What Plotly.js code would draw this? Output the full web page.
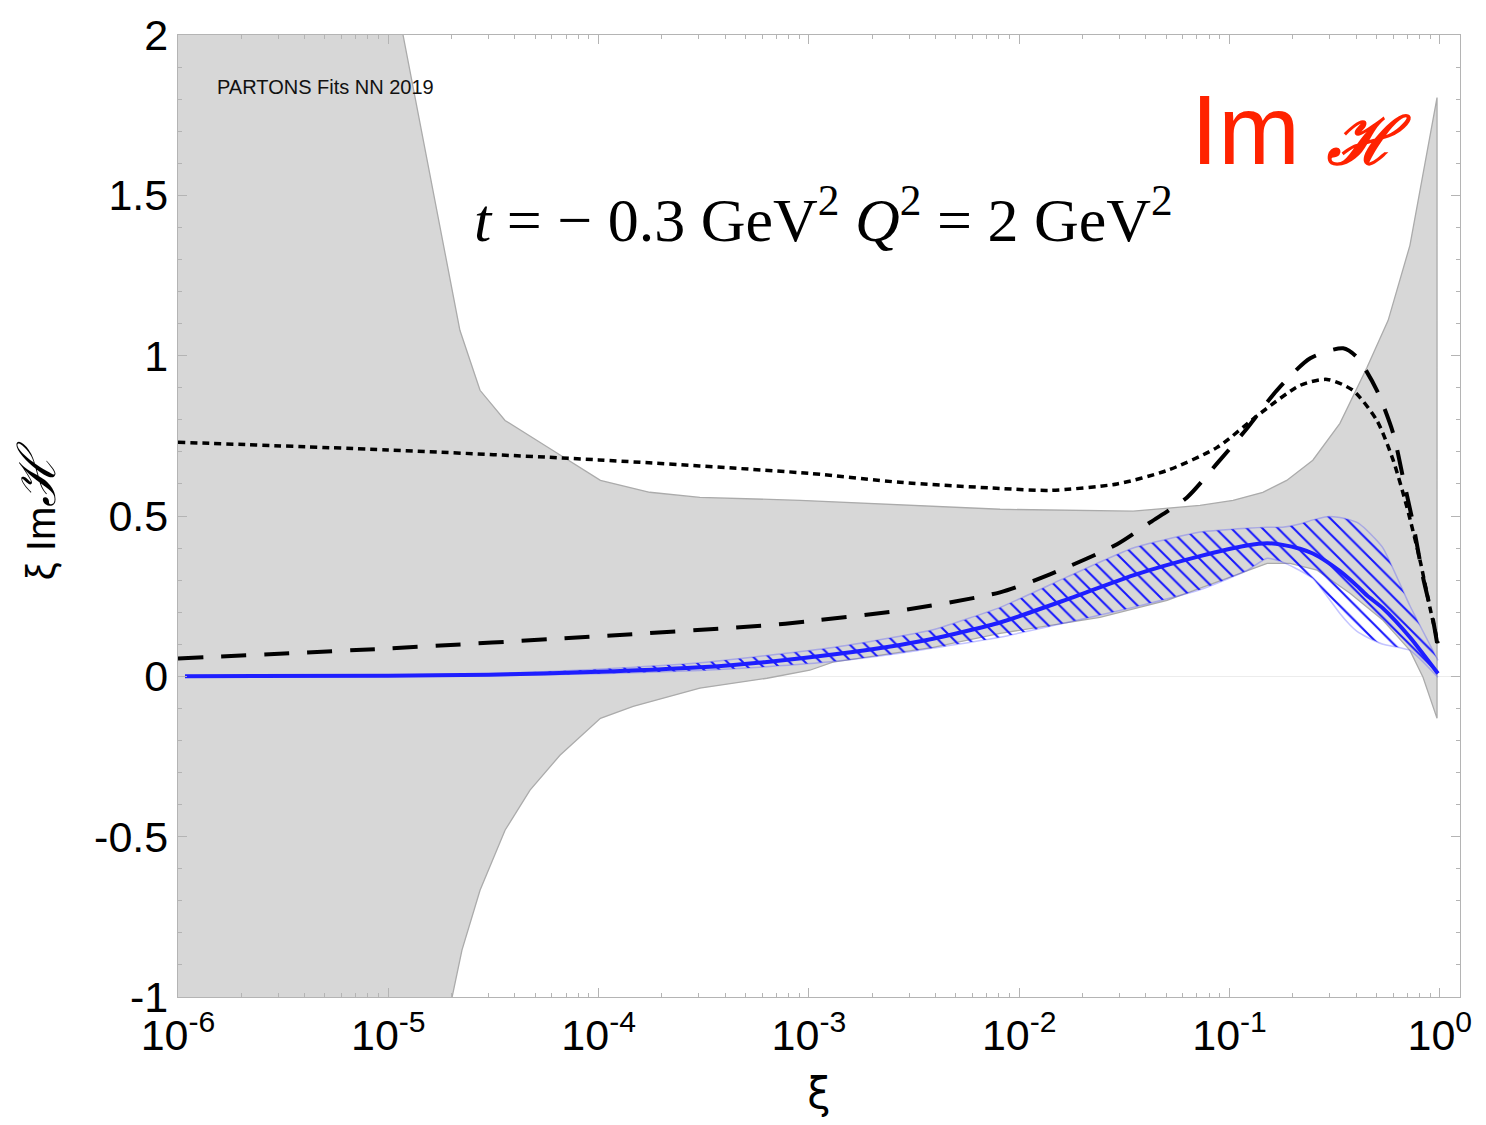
<!DOCTYPE html>
<html>
<head>
<meta charset="utf-8">
<script src="https://cdn.plot.ly/plotly-3.0.1.min.js"></script>
<style>html,body{margin:0;padding:0;background:#fff;}#plot{width:1486px;height:1125px;}</style>
</head>
<body>
<div id="plot"></div>
<script>
// Grey band (upper / lower bounds)
const greyUpperX = [1e-6, 1e-5, 1.175e-5, 2.19e-5, 2.73e-5, 3.59e-5, 5.56e-5, 1.02e-4, 1.75e-4, 3.03e-4, 9.08e-4, 8.11e-3, 0.0348, 0.0724, 0.104, 0.144, 0.187, 0.249, 0.335, 0.451, 0.568, 0.721, 0.97];
const greyUpperY = [5.0, 2.24, 2.0, 1.079, 0.892, 0.798, 0.720, 0.611, 0.574, 0.558, 0.549, 0.521, 0.515, 0.533, 0.549, 0.574, 0.611, 0.674, 0.789, 0.964, 1.110, 1.344, 1.805];
const greyLowerX = [1e-6, 1e-5, 2.01e-5, 2.24e-5, 2.73e-5, 3.59e-5, 4.72e-5, 6.55e-5, 1.02e-4, 1.46e-4, 3.03e-4, 6.32e-4, 1.01e-3, 1.30e-3, 3.89e-3, 8.11e-3, 0.0242, 0.0505, 0.151, 0.194, 0.261, 0.374, 0.537, 0.721, 0.832, 0.97];
const greyLowerY = [-6, -2.0, -1.001, -0.854, -0.667, -0.480, -0.355, -0.246, -0.131, -0.094, -0.037, -0.006, 0.019, 0.044, 0.090, 0.134, 0.184, 0.237, 0.352, 0.352, 0.331, 0.259, 0.175, 0.081, -0.003, -0.131];

// Blue central curve and its hatched band
const blueX = [1.08e-6, 1e-5, 3e-5, 1e-4, 3.03e-4, 6.32e-4, 1.3e-3, 2.71e-3, 3.89e-3, 8.11e-3, 0.0169, 0.0348, 0.0724, 0.121, 0.151, 0.179, 0.216, 0.249, 0.291, 0.335, 0.374, 0.404, 0.451, 0.537, 0.721, 0.98];
const blueMid = [0.000, 0.002, 0.005, 0.014, 0.028, 0.045, 0.068, 0.098, 0.117, 0.168, 0.240, 0.315, 0.375, 0.408, 0.415, 0.410, 0.398, 0.383, 0.357, 0.328, 0.302, 0.282, 0.252, 0.212, 0.122, 0.009];
const blueUpper = [0.001, 0.004, 0.008, 0.022, 0.042, 0.065, 0.090, 0.125, 0.145, 0.215, 0.310, 0.400, 0.450, 0.462, 0.465, 0.465, 0.475, 0.488, 0.498, 0.495, 0.488, 0.480, 0.455, 0.400, 0.220, 0.050];
const blueLower = [-0.001, 0.000, 0.002, 0.008, 0.018, 0.030, 0.046, 0.072, 0.088, 0.122, 0.168, 0.215, 0.270, 0.330, 0.368, 0.356, 0.330, 0.305, 0.250, 0.196, 0.160, 0.140, 0.122, 0.100, 0.081, -0.003];

// Dashed curve
const dashX = [1e-6, 1e-5, 1e-4, 6.32e-4, 1e-3, 2.71e-3, 8.11e-3, 0.0140, 0.0292, 0.0419, 0.0628, 0.0873, 0.121, 0.168, 0.242, 0.347, 0.404, 0.502, 0.600, 0.668, 0.746, 0.832, 0.929, 0.98];
const dashY = [0.056, 0.087, 0.125, 0.159, 0.172, 0.205, 0.262, 0.318, 0.412, 0.480, 0.558, 0.664, 0.773, 0.892, 0.992, 1.023, 0.995, 0.892, 0.758, 0.621, 0.477, 0.309, 0.175, 0.087];

// Dotted curve
const dotX = [1e-6, 1e-5, 1e-4, 1e-3, 2.71e-3, 8.11e-3, 0.0140, 0.0292, 0.0505, 0.0873, 0.140, 0.216, 0.291, 0.386, 0.502, 0.600, 0.698, 0.805, 0.897, 0.98];
const dotY = [0.730, 0.706, 0.675, 0.633, 0.605, 0.586, 0.580, 0.600, 0.642, 0.714, 0.820, 0.907, 0.926, 0.892, 0.798, 0.674, 0.527, 0.362, 0.215, 0.103];

// Tick labels
const xTickVals = [1e-6, 1e-5, 1e-4, 1e-3, 1e-2, 1e-1, 1];
const xTickText = ['10<sup>-6</sup>', '10<sup>-5</sup>', '10<sup>-4</sup>', '10<sup>-3</sup>', '10<sup>-2</sup>', '10<sup>-1</sup>', '10<sup>0</sup>'];
const yTickVals = [-1, -0.5, 0, 0.5, 1, 1.5, 2];
const yTickText = ['-1', '-0.5', '0', '0.5', '1', '1.5', '2'];

const greyPolyX = greyUpperX.concat(greyLowerX.slice().reverse());
const greyPolyY = greyUpperY.concat(greyLowerY.slice().reverse());

const traces = [
  {x: greyPolyX, y: greyPolyY, type: 'scatter', mode: 'lines', fill: 'toself',
   fillcolor: '#d7d7d7', line: {color: '#ababab', width: 1.3}, hoverinfo: 'skip', showlegend: false},
  {x: blueX, y: blueLower, type: 'scatter', mode: 'lines',
   line: {color: 'rgba(60,60,255,0.3)', width: 1.5, shape: 'spline', smoothing: 0.5}, hoverinfo: 'skip', showlegend: false},
  {x: blueX, y: blueUpper, type: 'scatter', mode: 'lines', fill: 'tonexty',
   fillcolor: 'rgba(0,0,0,0)',
   fillpattern: {shape: '\\', fgcolor: 'rgb(20,20,255)', bgcolor: 'rgba(0,0,0,0)', size: 11, solidity: 0.18},
   line: {color: 'rgba(60,60,255,0.3)', width: 1.5, shape: 'spline', smoothing: 0.5}, hoverinfo: 'skip', showlegend: false},
  {x: dashX, y: dashY, type: 'scatter', mode: 'lines', line: {color: '#000', width: 4, dash: '25px,18px', shape: 'spline', smoothing: 0.7}, showlegend: false},
  {x: dotX, y: dotY, type: 'scatter', mode: 'lines', line: {color: '#000', width: 3.5, dash: '7px,5px', shape: 'spline', smoothing: 0.7}, showlegend: false},
  {x: blueX, y: blueMid, type: 'scatter', mode: 'lines', line: {color: 'rgb(30,30,255)', width: 4, shape: 'spline', smoothing: 0.6}, showlegend: false}
];

const frameColor = '#b4b4b4';
const layout = {
  width: 1486, height: 1125,
  margin: {l: 178, r: 26, t: 35, b: 128},
  paper_bgcolor: '#fff', plot_bgcolor: '#fff',
  font: {family: 'Liberation Sans, Arial, sans-serif', color: '#000'},
  xaxis: {
    type: 'log', range: [-6, 0.096],
    tickmode: 'array', tickvals: xTickVals, ticktext: xTickText,
    tickfont: {size: 43, family: 'Liberation Sans, Arial, sans-serif'},
    ticks: 'inside', ticklen: 9, tickcolor: frameColor, tickwidth: 1,
    minor: {ticks: 'inside', ticklen: 4, tickcolor: frameColor, dtick: 'D1', showgrid: false},
    showline: true, linecolor: frameColor, linewidth: 1.2, mirror: 'allticks',
    showgrid: false, zeroline: false,
    title: {text: 'ξ', font: {size: 42, family: 'DejaVu Sans, sans-serif'}, standoff: 20}
  },
  yaxis: {
    range: [-1, 2],
    tickmode: 'array', tickvals: yTickVals, ticktext: yTickText,
    tickfont: {size: 43, family: 'Liberation Sans, Arial, sans-serif'},
    ticks: 'inside', ticklen: 9, tickcolor: frameColor, tickwidth: 1,
    minor: {ticks: 'inside', ticklen: 4, tickcolor: frameColor, dtick: 0.1, showgrid: false},
    showline: true, linecolor: frameColor, linewidth: 1.2, mirror: 'allticks',
    showgrid: false, zeroline: true, zerolinecolor: '#ececec', zerolinewidth: 1,
    title: {text: 'ξ Im<span style="font-family:DejaVu Serif;font-style:italic;font-size:52px">ℋ</span>', font: {size: 40, family: 'Liberation Sans, Arial, sans-serif'}, standoff: 26}
  },
  annotations: [
    {xref: 'paper', yref: 'paper', x: 0.0289, y: 0.946, xanchor: 'left', yanchor: 'middle', showarrow: false,
     text: 'PARTONS Fits NN 2019', font: {size: 20, family: 'Liberation Sans, Arial, sans-serif', color: '#111'}},
    {xref: 'paper', yref: 'paper', x: 0.789, y: 0.901, xanchor: 'left', yanchor: 'middle', showarrow: false,
     text: 'Im <span style="font-family:DejaVu Serif;font-size:66px"><b><i>ℋ</i></b></span>', font: {size: 98, family: 'Liberation Sans, Arial, sans-serif', color: '#ff2200'}},
    {xref: 'paper', yref: 'paper', x: 0.2293, y: 0.813, xanchor: 'left', yanchor: 'middle', showarrow: false,
     text: '<i>t</i> = − 0.3 GeV<sup>2</sup> <i>Q</i><sup>2</sup> = 2 GeV<sup>2</sup>', font: {size: 62, family: 'Liberation Serif, Times New Roman, serif', color: '#000'}}
  ]
};

Plotly.newPlot('plot', traces, layout, {displayModeBar: false, staticPlot: true});
</script>
</body>
</html>
